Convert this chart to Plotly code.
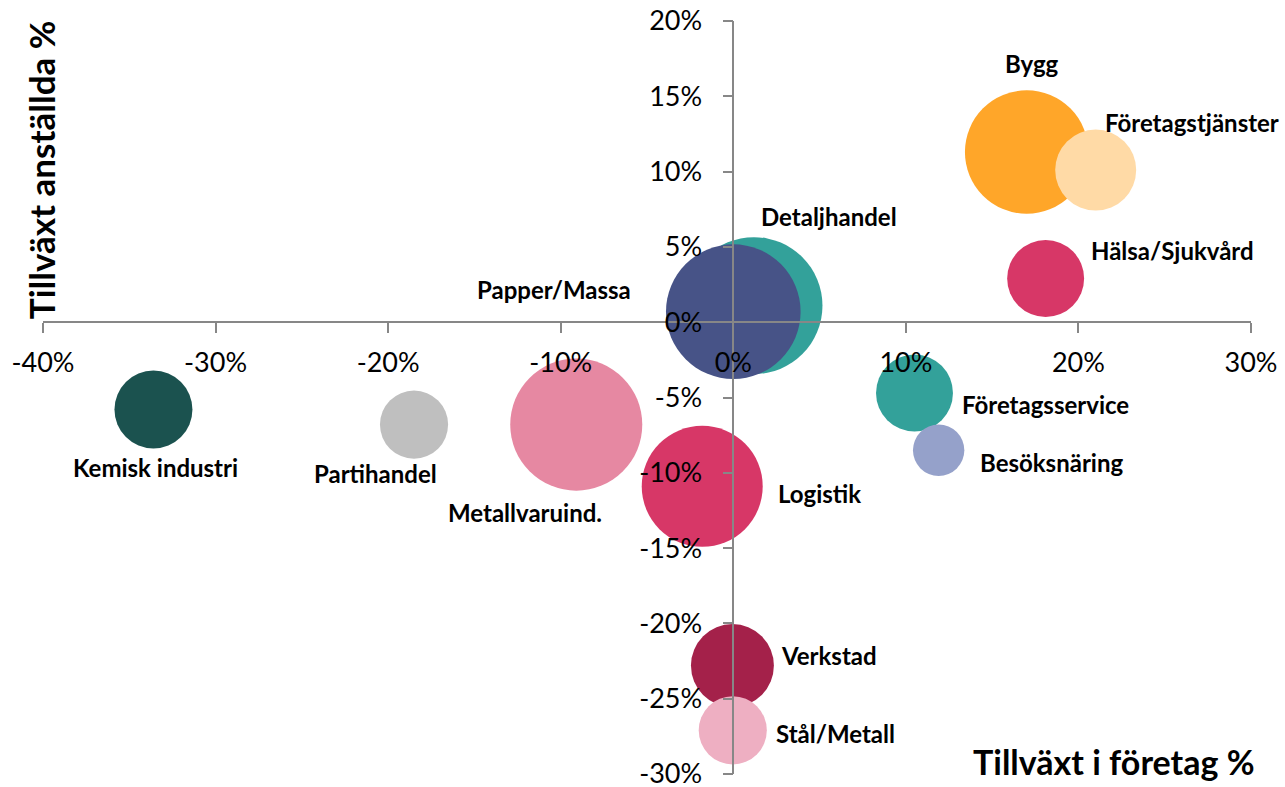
import plotly.graph_objects as go

# ---- data ----
branscher = ["Kemisk industri", "Partihandel", "Metallvaruind.", "Logistik",
             "Detaljhandel", "Papper/Massa", "Verkstad", "Stål/Metall",
             "Företagsservice", "Besöksnäring", "Hälsa/Sjukvård", "Bygg",
             "Företagstjänster"]
tillvaxt_foretag = [-33.6, -18.5, -9.1, -1.8, 1.2, 0.0, -0.05, -0.03,
                    10.5, 11.9, 18.1, 17.0, 21.0]
tillvaxt_anstallda = [-5.8, -6.8, -6.8, -10.9, 1.1, 0.7, -22.8, -27.1,
                      -4.7, -8.5, 2.9, 11.3, 10.1]
storlek = [152, 116, 436, 366, 469, 453, 172, 116, 148, 66, 148, 381, 164]
farger = ["#1B524F", "#BFBFBF", "#E688A2", "#D73767", "#33A19A", "#475387",
          "#A4214A", "#EEAFC2", "#33A19A", "#95A1CA", "#D73767", "#FFA629",
          "#FFDAA6"]

x_ticks = [-40, -30, -20, -10, 0, 10, 20, 30]
x_ticktext = ["-40%", "-30%", "-20%", "-10%", "0%", "10%", "20%", "30%"]
y_ticks = [-30, -25, -20, -15, -10, -5, 0, 5, 10, 15, 20]
y_ticktext = ["-30%", "-25%", "-20%", "-15%", "-10%", "-5%", "0%", "5%",
              "10%", "15%", "20%"]

# label placement relative to bubble centre (pixels): (xshift, yshift, xanchor)
label_pos = {
    "Kemisk industri": (2, -58, "center"),
    "Partihandel": (-39, -49, "center"),
    "Metallvaruind.": (-51, -88, "center"),
    "Logistik": (74, -7, "left"),
    "Detaljhandel": (75, 89, "center"),
    "Papper/Massa": (-100, 22, "right"),
    "Verkstad": (47, 10, "left"),
    "Stål/Metall": (41, -3, "left"),
    "Företagsservice": (46, -12, "left"),
    "Besöksnäring": (39, -12, "left"),
    "Hälsa/Sjukvård": (43, 28, "left"),
    "Bygg": (5, 89, "center"),
    "Företagstjänster": (7, 48, "left"),
}

FONT = "Lato, 'Open Sans', sans-serif"
AXIS_COLOR = "#878787"

fig = go.Figure()
for i, name in enumerate(branscher):
    fig.add_trace(go.Scatter(
        x=[tillvaxt_foretag[i]], y=[tillvaxt_anstallda[i]],
        mode="markers", name=name, showlegend=False,
        marker=dict(size=[storlek[i]], sizemode="area", sizeref=0.05,
                    color=farger[i], opacity=1, line=dict(width=0)),
        hoverinfo="name",
    ))

annotations = []
for i, name in enumerate(branscher):
    xs, ys, xa = label_pos[name]
    annotations.append(dict(
        x=tillvaxt_foretag[i], y=tillvaxt_anstallda[i], xref="x", yref="y",
        text="<b>%s</b>" % name, showarrow=False, xanchor=xa, yanchor="middle",
        xshift=xs, yshift=ys, font=dict(family=FONT, size=24, color="#000000"),
    ))

annotations.append(dict(
    x=-0.001, y=0.803, xref="paper", yref="paper", text="<b>Tillväxt anställda %</b>",
    textangle=-90, showarrow=False, xanchor="center", yanchor="middle",
    font=dict(family=FONT, size=35, color="#000000"),
))
annotations.append(dict(
    x=0.887, y=0.016, xref="paper", yref="paper", text="<b>Tillväxt i företag %</b>",
    showarrow=False, xanchor="center", yanchor="middle",
    font=dict(family=FONT, size=34, color="#000000"),
))

fig.update_layout(
    width=1285, height=787,
    margin=dict(l=43, r=34, t=21, b=13),
    paper_bgcolor="white", plot_bgcolor="white",
    font=dict(family=FONT, color="#000000"),
    annotations=annotations,
    xaxis=dict(
        range=[-40, 30], anchor="free", position=0.6,
        tickvals=x_ticks, ticktext=x_ticktext,
        showgrid=False, zeroline=False,
        showline=True, linecolor=AXIS_COLOR, linewidth=1.5,
        ticks="outside", ticklen=10, tickcolor=AXIS_COLOR, tickwidth=1.5,
        tickfont=dict(family=FONT, size=27, color="#000000"),
        ticklabelstandoff=7, ticklabeloverflow="allow",
        automargin=False, fixedrange=True,
    ),
    yaxis=dict(
        range=[-30, 20], anchor="free", position=40 / 70,
        tickvals=y_ticks, ticktext=y_ticktext,
        showgrid=False, zeroline=False,
        showline=True, linecolor=AXIS_COLOR, linewidth=1.5,
        ticks="outside", ticklen=10, tickcolor=AXIS_COLOR, tickwidth=1.5,
        tickfont=dict(family=FONT, size=27, color="#000000"),
        ticklabelstandoff=15, ticklabeloverflow="allow",
        automargin=False, fixedrange=True,
    ),
)

fig.write_html(
    "out.html",
    config={"displayModeBar": False},
    post_script="document.body.style.margin='0';document.body.style.padding='0';"
                "document.body.style.overflow='hidden';",
)
